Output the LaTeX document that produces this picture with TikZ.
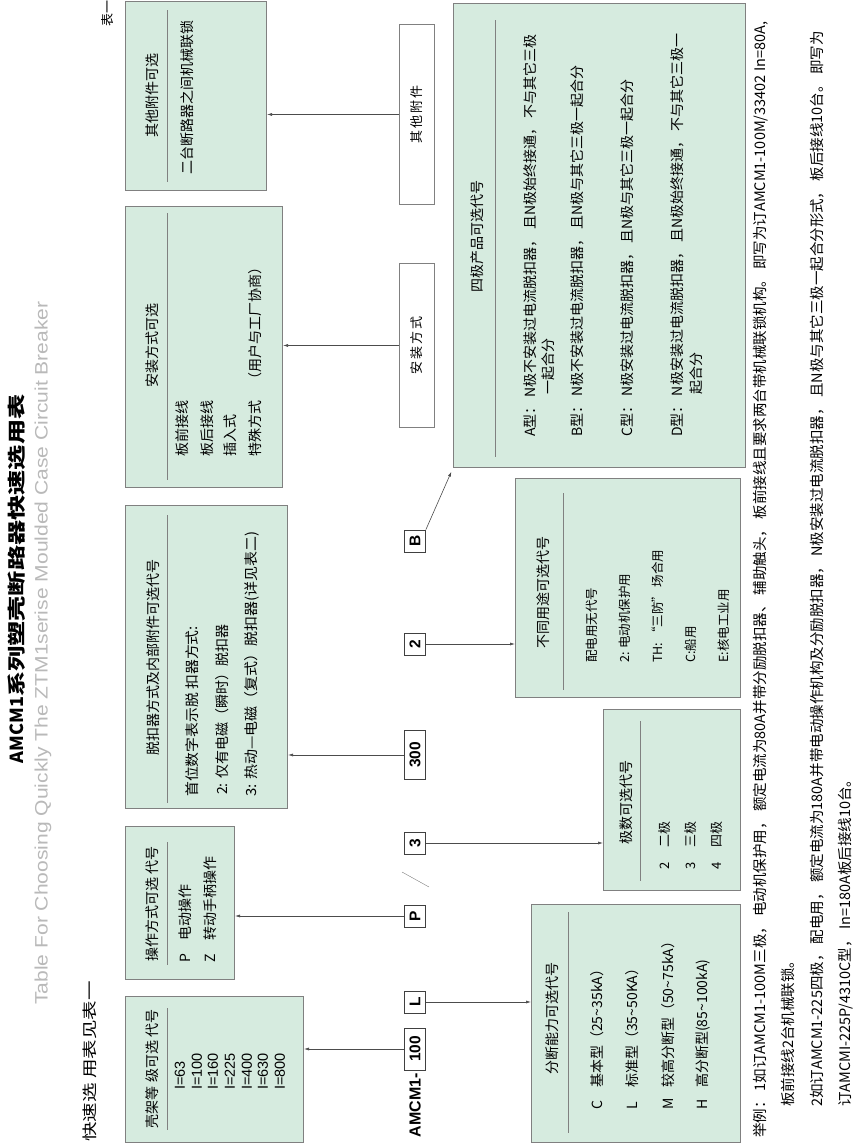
\documentclass[tikz,border=0pt]{standalone}
\usepackage{fontspec}
\usepackage{graphicx}
\setmainfont{Noto Sans CJK SC}
\newfontfamily\arial{Liberation Sans}
\usetikzlibrary{arrows.meta}

\definecolor{boxgreen}{RGB}{214,235,223}
\definecolor{boxline}{RGB}{128,128,128}
\definecolor{subgray}{RGB}{185,185,185}

\tikzset{
  gbox/.style={draw=boxline, fill=boxgreen, line width=1pt, inner sep=0pt, anchor=north west},
  wbox/.style={draw=boxline, fill=white, line width=1pt, inner sep=0pt, anchor=north west,
    font=\fontsize{13}{13}\selectfont},
  codebox/.style={draw=black!75, fill=white, line width=0.8pt, inner sep=0pt,
    minimum height=21pt, minimum width=22pt, font=\arial\bfseries\fontsize{15.5}{15.5}\selectfont},
  ttl/.style={inner sep=0pt, font=\fontsize{14}{14}\selectfont},
  txt/.style={inner sep=0pt, anchor=west, font=\fontsize{14}{14}\selectfont},
  small/.style={txt, font=\fontsize{12.5}{12.5}\selectfont},
  foot/.style={txt, font=\fontsize{14.5}{14.5}\selectfont},
  rule/.style={draw=boxline, line width=1pt},
  arr/.style={draw=black!70, line width=0.6pt, -{Latex[length=5pt,width=3pt]}},
}
\newcommand{\lead}[1]{\makebox[22pt][l]{#1}}

\begin{document}
\begin{tikzpicture}[x=1pt,y=1pt]
\useasboundingbox (0,0) rectangle (860,1146);
\begin{scope}[rotate=90,transform shape]
  % headings
  \node[inner sep=0pt, font=\fontsize{18}{18}\selectfont\bfseries] (title) at (567,-17)
    {AMCM1\scalebox{1.4}[1]{系列塑壳断路器快速选用表}};
  \node[inner sep=0pt, text=subgray, font=\arial\fontsize{18}{18}\selectfont] (subtitle) at (493,-43)
    {\scalebox{1.17}[1]{Table For Choosing Quickly The ZTM1serise Moulded Case Circuit Breaker}};
  \node[txt, font=\fontsize{15}{15}\selectfont] (quick) at (4,-90) {\scalebox{1.3}[1]{快速选 用表见表一}};
  \node[inner sep=0pt, font=\fontsize{13}{13}\selectfont] (tabone) at (1132,-108) {表一};

  % option boxes
  \node[gbox, minimum width=146pt, minimum height=178pt] (shell) at (3,-125) {};
  \node[gbox, minimum width=153pt, minimum height=109pt] (oper) at (166,-125) {};
  \node[gbox, minimum width=303pt, minimum height=162pt] (trip) at (337,-125) {};
  \node[gbox, minimum width=281pt, minimum height=157pt] (mount) at (658,-125) {};
  \node[gbox, minimum width=189pt, minimum height=141pt] (other) at (955,-125) {};
  \node[gbox, minimum width=464pt, minimum height=292pt] (fourp) at (678,-453) {};
  \node[gbox, minimum width=219pt, minimum height=225pt] (use) at (448,-515) {};
  \node[gbox, minimum width=181pt, minimum height=137pt] (poles) at (255,-603) {};
  \node[gbox, minimum width=238pt, minimum height=209pt] (brk) at (3,-531) {};
  \node[wbox, minimum width=164pt, minimum height=35pt] (wmount) at (718,-399) {安\,装\,方\,式};
  \node[wbox, minimum width=180pt, minimum height=35pt] (wother) at (941,-399) {其\,他\,附\,件};

  % box titles and rules
  \node[ttl] (shellttl) at (77,-152) {壳架等 级可选 代号};
  \node[ttl] (operttl) at (242,-152) {操作方式可选 代号};
  \node[ttl] (tripttl) at (488,-153) {脱扣器方式及内部附件可选代号};
  \node[ttl] (mountttl) at (800,-152) {安装方式可选};
  \node[ttl] (otherttl) at (1050,-152) {其他附件可选};
  \node[ttl] (fourpttl) at (909,-477) {四极产品可选代号};
  \node[ttl] (usettl) at (553,-543) {不同用途可选代号};
  \node[ttl] (polesttl) at (343,-626) {极数可选代号};
  \node[ttl] (brkttl) at (127,-552) {分断能力可选代号};
  \draw[rule] (16,-167) -- (138,-167);
  \draw[rule] (181,-167) -- (304,-167);
  \draw[rule] (343,-167) -- (631,-167);
  \draw[rule] (666,-167) -- (933,-167);
  \draw[rule] (964,-167) -- (1136,-167);
  \draw[rule] (689,-495) -- (1126,-495);
  \draw[rule] (456,-563) -- (653,-563);
  \draw[rule] (265,-640) -- (425,-640);
  \draw[rule] (13,-568) -- (234,-568);

  % box contents
  \foreach \v/\amp [count=\i] in {180/63,197/100,213/160,230/225,247/400,263/630,280/800}
    \node[txt, font=\arial\fontsize{14.5}{14.5}\selectfont] (amp\i) at (56,-\v) {I=\amp};
  \node[txt] (operP) at (183,-185) {\lead{P}电动操作};
  \node[txt] (operZ) at (183,-210) {\lead{Z}转动手柄操作};
  \node[txt] (trip1) at (349,-192) {\scalebox{1.06}[1]{首位数字表示脱 扣器方式:}};
  \node[txt] (trip2) at (351,-222) {2:  仅有电磁（瞬时）脱扣器};
  \node[txt] (trip3) at (349,-252) {\scalebox{1.07}[1]{3:  热动—电磁（复式）脱扣器(详见表二)}};
  \node[txt] (mount1) at (689,-182) {板前接线};
  \node[txt] (mount2) at (689,-207) {板后接线};
  \node[txt] (mount3) at (689,-230) {插入式};
  \node[txt] (mount4) at (689,-255) {特殊方式\quad（用户与工厂协商）};
  \node[txt] (other1) at (971,-187) {二台断路器之间机械联锁};
  \node[txt] (fourA) at (709,-530) {A型： N极不安装过电流脱扣器， 且N极始终接通， 不与其它三极};
  \node[txt] (fourAb) at (751,-548) {一起合分};
  \node[txt] (fourB) at (709,-577) {B型： N极不安装过电流脱扣器， 且N极与其它三极一起合分};
  \node[txt] (fourC) at (709,-627) {C型： N极安装过电流脱扣器， 且N极与其它三极一起合分};
  \node[txt] (fourD) at (709,-677) {D型： N极安装过电流脱扣器， 且N极始终接通， 不与其它三极一};
  \node[txt] (fourDb) at (751,-696) {起合分};
  \node[small] (use1) at (483,-592) {配电用无代号};
  \node[small] (use2) at (483,-625) {2: 电动机保护用};
  \node[small] (use3) at (483,-658) {TH: “三防” 场合用};
  \node[small] (use4) at (483,-691) {C:船用};
  \node[small] (use5) at (483,-724) {E:核电工业用};
  \node[txt, font=\fontsize{13}{13}\selectfont] (pole2) at (276,-665) {\lead{2}二极};
  \node[txt, font=\fontsize{13}{13}\selectfont] (pole3) at (276,-691) {\lead{3}三极};
  \node[txt, font=\fontsize{13}{13}\selectfont] (pole4) at (276,-717) {\lead{4}四极};
  \node[txt] (brkC) at (36,-597) {\lead{C}基本型（25\textasciitilde 35kA）};
  \node[txt] (brkL) at (36,-632) {\lead{L}标准型（35\textasciitilde 50KA）};
  \node[txt] (brkM) at (36,-668) {\lead{M}较高分断型（50\textasciitilde 75kA）};
  \node[txt] (brkH) at (36,-703) {\lead{H}高分断型(85\textasciitilde 100kA)};

  % model code
  \node[inner sep=0pt, anchor=east, font=\arial\bfseries\fontsize{16}{16}\selectfont] (model) at (73,-415) {AMCM1-};
  \node[codebox, minimum width=42pt] (c100) at (97,-415) {100};
  \node[codebox] (cL) at (144,-415) {L};
  \node[codebox] (cP) at (230,-415) {P};
  \node[codebox] (c3) at (303,-415) {3};
  \node[codebox, minimum width=49pt] (c300) at (391,-415) {300};
  \node[codebox] (c2) at (502,-415) {2};
  \node[codebox] (cB) at (605,-415) {B};
  \draw[boxline] (274,-402) -- (259,-429);

  % connectors
  \draw[arr] (c100.north) -- (c100.north |- shell.south);
  \draw[arr] (cL.south) -- (cL.south |- brk.north);
  \draw[arr] (cP.north) -- (cP.north |- oper.south);
  \draw[arr] (c3.south) -- (c3.south |- poles.north);
  \draw[arr] (c300.north) -- (c300.north |- trip.south);
  \draw[arr] (c2.south) -- (c2.south |- use.north);
  \draw[arr, shorten >=4pt] (cB.south east) -- (fourp.north west);
  \draw[arr] (wmount.north) -- (wmount.north |- mount.south);
  \draw[arr] (wother.north) -- (wother.north |- other.south);

  % worked examples
  \node[foot] (ex1) at (8,-761) {举例： 1如订AMCM1-100M三极， 电动机保护用， 额定电流为80A并带分励脱扣器、 辅助触头， 板前接线且要求两台带机械联锁机构。 即写为订AMCM1-100M/33402 In=80A,};
  \node[foot] (ex1b) at (39,-788) {板前接线2台机械联锁。};
  \node[foot] (ex2) at (39,-817) {2如订AMCM1-225四极， 配电用， 额定电流为180A并带电动操作机构及分励脱扣器， N极安装过电流脱扣器， 且N极与其它三极一起合分形式， 板后接线10台。 即写为};
  \node[foot] (ex2b) at (39,-846) {订AMCMI-225P/4310C型， In=180A板后接线10台。};
\end{scope}
\end{tikzpicture}
\end{document}
